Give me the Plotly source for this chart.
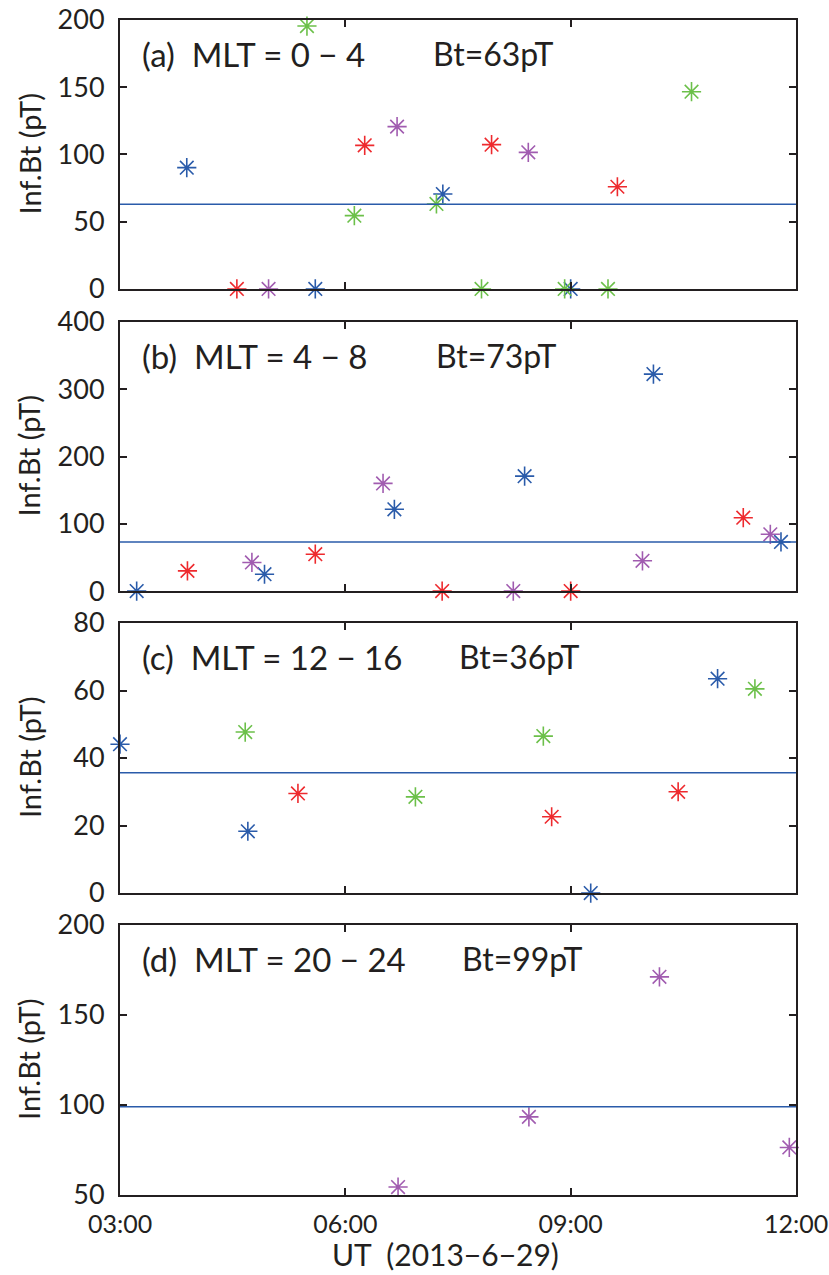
import plotly.graph_objects as go
from plotly.subplots import make_subplots

# ---------------- data (UT hours, Inf.Bt in pT) ----------------
A_BLUE_T = [3.889, 5.600, 7.298, 9.000]
A_BLUE_V = [90.2, 0, 70.6, 0]
A_RED_T = [4.556, 6.258, 7.947, 9.622]
A_RED_V = [0, 106.8, 107.3, 76.0]
A_PURPLE_T = [4.978, 6.689, 8.436]
A_PURPLE_V = [0, 120.7, 101.6]
A_GREEN_T = [5.489, 6.120, 7.213, 7.813, 8.920, 9.497, 10.609]
A_GREEN_V = [195.5, 54.5, 63.2, 0, 0, 0, 146.7]

B_BLUE_T = [3.222, 4.924, 6.653, 8.387, 10.102, 11.800]
B_BLUE_V = [0, 25.0, 121.5, 170.8, 322.5, 73.0]
B_RED_T = [3.898, 5.600, 7.289, 9.000, 11.298]
B_RED_V = [30.0, 54.8, 0, 0, 109.0]
B_PURPLE_T = [4.756, 6.502, 8.236, 9.956, 11.658]
B_PURPLE_V = [42.5, 160.0, 0, 45.0, 84.4]

C_BLUE_T = [3.000, 4.702, 9.267, 10.956]
C_BLUE_V = [44.1, 18.3, 0, 63.5]
C_RED_T = [5.369, 8.747, 10.431]
C_RED_V = [29.5, 22.6, 30.0]
C_GREEN_T = [4.667, 6.933, 8.636, 11.453]
C_GREEN_V = [47.7, 28.5, 46.5, 60.5]

D_PURPLE_T = [6.702, 8.444, 10.182, 11.911]
D_PURPLE_V = [54.4, 93.4, 171.2, 76.4]

BT_LINE = [63, 73, 35.6, 99]
BT_TEXT = ["Bt=63pT", "Bt=73pT", "Bt=36pT", "Bt=99pT"]
PANEL_TEXT = ["(a)\u00a0\u00a0MLT = 0 \u2212 4",
              "(b)\u00a0\u00a0MLT = 4 \u2212 8",
              "(c)\u00a0\u00a0MLT = 12 \u2212 16",
              "(d)\u00a0\u00a0MLT = 20 \u2212 24"]
Y_RANGES = [[0, 200], [0, 400], [0, 80], [50, 200]]
Y_TICKS = [[0, 50, 100, 150, 200], [0, 100, 200, 300, 400],
           [0, 20, 40, 60, 80], [50, 100, 150, 200]]
X_TICKVALS = [3, 6, 9, 12]
X_TICKTEXT = ["03:00", "06:00", "09:00", "12:00"]
Y_TITLE = "Inf.Bt (pT)"
X_TITLE = "UT\u00a0\u00a0(2013\u22126\u221229)"

COLORS = {"blue": "#2A5BAA", "red": "#EE2A2E", "purple": "#A15CB0", "green": "#6CC04A"}
FONT = "Lato"
AXCOL = "#231F20"
TXT = "#231F20"

panels = [
    [("blue", A_BLUE_T, A_BLUE_V), ("red", A_RED_T, A_RED_V),
     ("purple", A_PURPLE_T, A_PURPLE_V), ("green", A_GREEN_T, A_GREEN_V)],
    [("blue", B_BLUE_T, B_BLUE_V), ("red", B_RED_T, B_RED_V),
     ("purple", B_PURPLE_T, B_PURPLE_V)],
    [("blue", C_BLUE_T, C_BLUE_V), ("red", C_RED_T, C_RED_V),
     ("green", C_GREEN_T, C_GREEN_V)],
    [("purple", D_PURPLE_T, D_PURPLE_V)],
]

fig = make_subplots(rows=4, cols=1)

domains = [[0.7711, 1.0], [0.5140, 0.7430], [0.2570, 0.4868], [0.0, 0.2298]]
bt_x = [0.460, 0.464, 0.498, 0.503]

for i, series in enumerate(panels):
    r = i + 1
    for name, t, v in series:
        fig.add_trace(go.Scatter(
            x=t, y=v, mode="markers", name=name, showlegend=False,
            cliponaxis=False,
            marker=dict(symbol="asterisk-open", size=16,
                        line=dict(color=COLORS[name], width=1.6),
                        color=COLORS[name]),
        ), row=r, col=1)
    fig.add_hline(y=BT_LINE[i], line=dict(color="#2A5BAA", width=1.5), row=r, col=1)

    xa = "xaxis" if r == 1 else f"xaxis{r}"
    ya = "yaxis" if r == 1 else f"yaxis{r}"
    fig.layout[xa].update(
        range=[3, 12], tickvals=X_TICKVALS, ticktext=X_TICKTEXT,
        showticklabels=(r == 4), ticks="inside", ticklen=7, tickwidth=1.5,
        tickcolor=AXCOL, showline=True, linecolor=AXCOL, linewidth=2,
        mirror="ticks", showgrid=False, zeroline=False, automargin=False,
        tickfont=dict(family=FONT, size=25, color=TXT),
        ticklabelstandoff=6, ticklabeloverflow="allow",
    )
    fig.layout[ya].update(
        domain=domains[i], range=Y_RANGES[i], tickvals=Y_TICKS[i],
        ticks="inside", ticklen=7, tickwidth=1.5, tickcolor=AXCOL,
        showline=True, linecolor=AXCOL, linewidth=2, mirror="ticks",
        showgrid=False, zeroline=False, automargin=False,
        tickfont=dict(family=FONT, size=27, color=TXT),
        ticklabelstandoff=8, ticklabeloverflow="allow",
    )
    xd = "x domain" if r == 1 else f"x{r} domain"
    yd = "y domain" if r == 1 else f"y{r} domain"
    fig.add_annotation(text=PANEL_TEXT[i], xref=xd, yref=yd, x=0.03, y=0.875,
                       xanchor="left", yanchor="middle", showarrow=False,
                       font=dict(family=FONT, size=33, color=TXT))
    fig.add_annotation(text=BT_TEXT[i], xref=xd, yref=yd, x=bt_x[i], y=0.875,
                       xanchor="left", yanchor="middle", showarrow=False,
                       font=dict(family=FONT, size=32, color=TXT))
    fig.add_annotation(text=Y_TITLE, xref="paper", yref="paper", x=-0.1346,
                       y=(domains[i][0] + domains[i][1]) / 2, textangle=-90,
                       xanchor="center", yanchor="middle", showarrow=False,
                       font=dict(family=FONT, size=29, color=TXT))

fig.add_annotation(text=X_TITLE, xref="paper", yref="paper", x=0.481, y=-0.0505,
                   xanchor="center", yanchor="middle", showarrow=False,
                   font=dict(family=FONT, size=30, color=TXT))

fig.update_layout(
    width=829, height=1275,
    margin=dict(l=120, r=33, t=20, b=80, autoexpand=False),
    paper_bgcolor="white", plot_bgcolor="white",
    showlegend=False,
)

fig.write_html("out.html", config={"displayModeBar": False},
               post_script="document.body.style.margin='0';")
